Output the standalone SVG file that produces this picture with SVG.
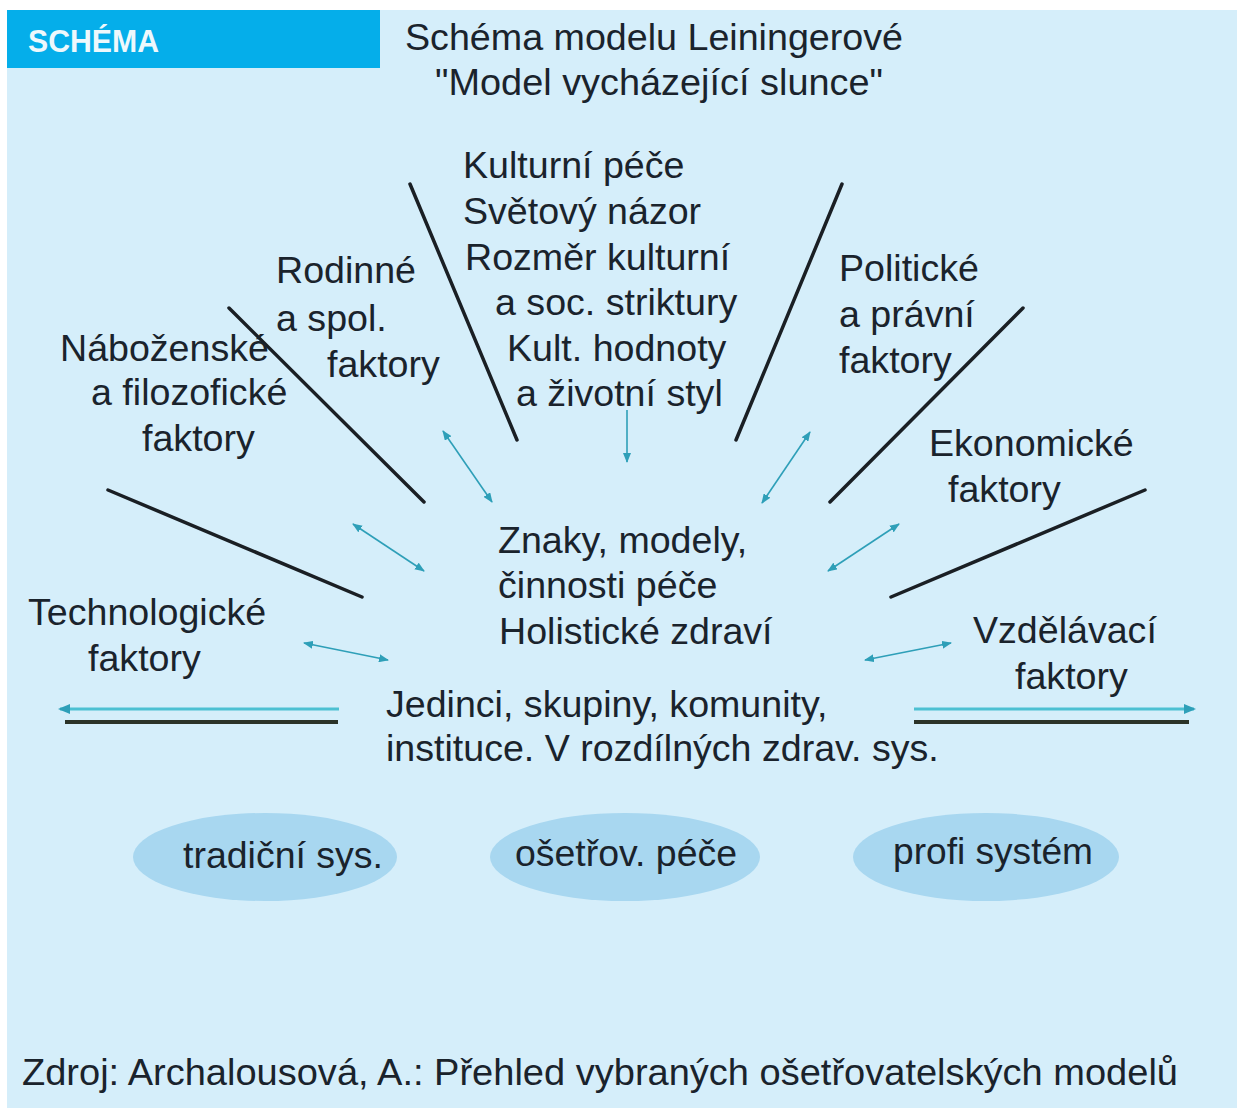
<svg xmlns="http://www.w3.org/2000/svg" width="1237" height="1110" viewBox="0 0 1237 1110">
<defs>
<style>
.t{font-family:"Liberation Sans",Arial,sans-serif;font-size:37.6px;fill:#1a232c}
.k{stroke:#1a1f24;stroke-width:3.5;stroke-linecap:round;fill:none}
.a{stroke:#2e9fb8;stroke-width:1.6;fill:none}
.cy{stroke:#4cc0d2;stroke-width:3;fill:none}
.bk{stroke:#2b3328;stroke-width:4;fill:none}
.el{fill:#a8d7f0}
</style>
<marker id="ah" viewBox="0 0 10 8" refX="9" refY="4" markerUnits="userSpaceOnUse" markerWidth="10" markerHeight="8" orient="auto-start-reverse">
<path d="M0,0 L10,4 L0,8 z" fill="#2e9fb8"/>
</marker>
<marker id="ah2" viewBox="0 0 12 10" refX="10" refY="5" markerUnits="userSpaceOnUse" markerWidth="12" markerHeight="10" orient="auto-start-reverse">
<path d="M0,0 L12,5 L0,10 z" fill="#2e9fb8"/>
</marker>
</defs>
<rect x="0" y="0" width="1237" height="1110" fill="#ffffff"/>
<rect x="7" y="10" width="1230" height="1098" fill="#d5eefa"/>
<g id="header">
<rect x="7" y="10" width="373" height="58" fill="#05aeea"/>
<text x="28" y="52" font-family="'Liberation Sans',Arial,sans-serif" font-size="31" font-weight="bold" fill="#eef8fc" textLength="131" lengthAdjust="spacingAndGlyphs">SCHÉMA</text>
</g>
<g id="title">
<text class="t" x="405" y="50" textLength="498" lengthAdjust="spacingAndGlyphs">Schéma modelu Leiningerové</text>
<text class="t" x="435" y="95" textLength="448" lengthAdjust="spacingAndGlyphs">"Model vycházející slunce"</text>
</g>
<g id="connectors">
<line class="k" x1="410" y1="184" x2="517" y2="440"/>
<line class="k" x1="229" y1="308" x2="424" y2="502"/>
<line class="k" x1="108" y1="490" x2="362" y2="597"/>
<line class="k" x1="842" y1="184" x2="736" y2="440"/>
<line class="k" x1="1023" y1="308" x2="830" y2="502"/>
<line class="k" x1="1145" y1="490" x2="891" y2="597"/>
<line class="a" x1="443" y1="431" x2="492" y2="502" marker-start="url(#ah)" marker-end="url(#ah)"/>
<line class="a" x1="627" y1="410" x2="627" y2="462" marker-end="url(#ah)"/>
<line class="a" x1="810" y1="432" x2="762" y2="503" marker-start="url(#ah)" marker-end="url(#ah)"/>
<line class="a" x1="353" y1="524" x2="424" y2="571" marker-start="url(#ah)" marker-end="url(#ah)"/>
<line class="a" x1="304" y1="643" x2="388" y2="660" marker-start="url(#ah)" marker-end="url(#ah)"/>
<line class="a" x1="899" y1="524" x2="828" y2="571" marker-start="url(#ah)" marker-end="url(#ah)"/>
<line class="a" x1="951" y1="643" x2="865" y2="660" marker-start="url(#ah)" marker-end="url(#ah)"/>
<line class="cy" x1="339" y1="709" x2="60" y2="709" marker-end="url(#ah2)"/>
<line class="bk" x1="65" y1="722" x2="338" y2="722"/>
<line class="cy" x1="914" y1="709" x2="1194" y2="709" marker-end="url(#ah2)"/>
<line class="bk" x1="914" y1="722" x2="1189" y2="722"/>
</g>
<g id="kulturni">
<text class="t" x="463" y="178">Kulturní péče</text>
<text class="t" x="463" y="224">Světový názor</text>
<text class="t" x="465" y="270">Rozměr kulturní</text>
<text class="t" x="495" y="315">a soc. striktury</text>
<text class="t" x="507" y="361">Kult. hodnoty</text>
<text class="t" x="516" y="406">a životní styl</text>
</g>
<g id="rodinne">
<text class="t" x="276" y="283">Rodinné</text>
<text class="t" x="276" y="331">a spol.</text>
<text class="t" x="327" y="377">faktory</text>
</g>
<g id="nabozenske">
<text class="t" x="60" y="361">Náboženské</text>
<text class="t" x="91" y="405">a filozofické</text>
<text class="t" x="142" y="451">faktory</text>
</g>
<g id="politicke">
<text class="t" x="839" y="281">Politické</text>
<text class="t" x="839" y="327">a právní</text>
<text class="t" x="839" y="373">faktory</text>
</g>
<g id="ekonomicke">
<text class="t" x="929" y="456">Ekonomické</text>
<text class="t" x="948" y="502">faktory</text>
</g>
<g id="znaky">
<text class="t" x="498" y="553">Znaky, modely,</text>
<text class="t" x="498" y="598">činnosti péče</text>
<text class="t" x="499" y="644">Holistické zdraví</text>
</g>
<g id="technologicke">
<text class="t" x="28" y="625">Technologické</text>
<text class="t" x="88" y="671">faktory</text>
</g>
<g id="vzdelavaci">
<text class="t" x="973" y="643">Vzdělávací</text>
<text class="t" x="1015" y="689">faktory</text>
</g>
<g id="jedinci">
<text class="t" x="386" y="717">Jedinci, skupiny, komunity,</text>
<text class="t" x="386" y="761">instituce. V rozdílných zdrav. sys.</text>
</g>
<g id="tradicni">
<ellipse class="el" cx="265" cy="857" rx="132" ry="44"/>
<text class="t" x="183" y="868" textLength="200" lengthAdjust="spacingAndGlyphs">tradiční sys.</text>
</g>
<g id="osetrov">
<ellipse class="el" cx="625" cy="857" rx="135" ry="44"/>
<text class="t" x="515" y="866" textLength="222" lengthAdjust="spacingAndGlyphs">ošetřov. péče</text>
</g>
<g id="profi">
<ellipse class="el" cx="986" cy="857" rx="133" ry="44"/>
<text class="t" x="893" y="864" textLength="200" lengthAdjust="spacingAndGlyphs">profi systém</text>
</g>
<g id="zdroj">
<text class="t" x="22" y="1085" textLength="1156" lengthAdjust="spacingAndGlyphs">Zdroj: Archalousová, A.: Přehled vybraných ošetřovatelských modelů</text>
</g>
</svg>
